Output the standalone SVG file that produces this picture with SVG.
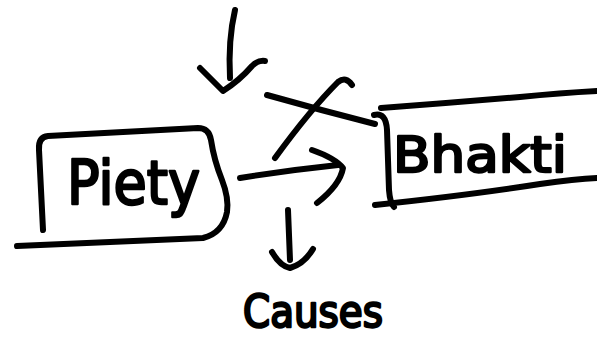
<svg xmlns="http://www.w3.org/2000/svg" width="597" height="339" viewBox="0 0 597 339">
<style>
.s{fill:none;stroke:#000;stroke-width:6;stroke-linecap:round;stroke-linejoin:round}
.t{font-family:"DejaVu Sans",sans-serif;fill:#000;stroke:#000;stroke-width:2.5;stroke-linejoin:round}
</style>
<rect width="597" height="339" fill="#fff"/>
<g id="node-piety">
<path class="s" d="M43,230 L39,150 Q38,137 48,136 L198,128 Q209,128 211,140 Q214,160 222,180 Q229,198 227,212 Q223,233 203,238 L17,246"/>
<text class="t" x="67" y="204" font-size="60" textLength="133" lengthAdjust="spacingAndGlyphs">Piety</text>
</g>
<g id="node-bhakti">
<path class="s" d="M374,115 Q386,112 387,130 L389,190 Q390,203 394,207"/>
<path class="s" d="M381,108 Q450,103 520,97 Q560,93 597,91"/>
<path class="s" d="M375,205 Q470,195 540,184 Q575,179 597,178"/>
<text class="t" x="393" y="172" font-size="50" textLength="174" lengthAdjust="spacingAndGlyphs">Bhakti</text>
</g>
<g id="node-causes">
<text class="t" x="243" y="327" font-size="44" textLength="140" lengthAdjust="spacingAndGlyphs">Causes</text>
</g>
<g id="connectors">
<path class="s" d="M235,10 Q228,40 230,78"/>
<path class="s" d="M200,68 Q212,80 223,91 Q240,80 252,66 Q258,60 265,61"/>
<path class="s" d="M267,95 Q320,110 375,124"/>
<path class="s" d="M275,158 Q310,110 338,82 Q346,76 352,85"/>
<path class="s" d="M240,178 Q290,170 338,165"/>
<path class="s" d="M312,150 Q335,158 343,168 Q340,185 317,203"/>
<path class="s" d="M288,210 L290,260"/>
<path class="s" d="M272,252 Q280,266 290,268 Q304,264 313,249"/>
</g>
</svg>
